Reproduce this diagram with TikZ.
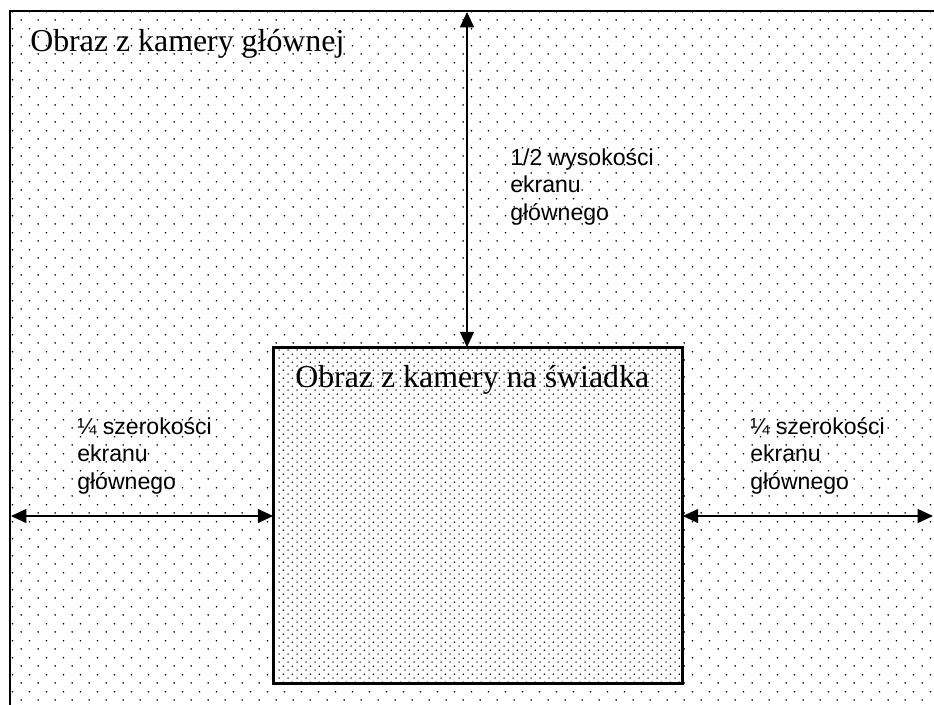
\documentclass[tikz,border=0pt]{standalone}
\usepackage{fontspec}
\setmainfont{Liberation Serif}
\newfontfamily\labelsans{Liberation Sans}
\usetikzlibrary{arrows.meta,patterns.meta}
\tikzdeclarepattern{name=outerdots, type=uncolored,
  bounding box={(0pt,0pt) and (13pt,12.5pt)}, tile size={(13pt,12.5pt)},
  code={\fill (3.25pt,3.125pt) circle (0.7pt); \fill (9.75pt,9.375pt) circle (0.7pt);}}
\tikzdeclarepattern{name=innerdots, type=uncolored,
  bounding box={(0pt,0pt) and (6.5pt,6.25pt)}, tile size={(6.5pt,6.25pt)},
  code={\fill (1.625pt,1.5625pt) circle (0.62pt); \fill (4.875pt,4.6875pt) circle (0.62pt);}}
\tikzset{
  outerbox/.style={draw=black, line width=1.2pt, pattern={outerdots}, pattern color=black},
  innerbox/.style={draw=black, line width=1.3pt, fill=white, rectangle, inner sep=0pt,
    minimum width=306pt, minimum height=251.25pt},
  innerpat/.style={pattern={innerdots}, pattern color=black},
  dimarrow/.style={line width=1.1pt, {Triangle[length=11.5pt,width=10.5pt]}-{Triangle[length=11.5pt,width=10.5pt]}},
  titletext/.style={anchor=base west, inner sep=0pt, font=\fontsize{23.9}{28}\selectfont},
  dimtext/.style={anchor=base west, inner sep=0pt, align=left, font=\labelsans\fontsize{17.3}{20.6}\selectfont}
}
\begin{document}
\begin{tikzpicture}[x=0.75pt,y=-0.75pt]
\useasboundingbox (0,0) rectangle (934,704);
\fill[white] (0,0) rectangle (934,704);
\begin{scope}
\clip (0,0) rectangle (934,704);
\draw[outerbox] (10,11) rectangle (945,715);
\end{scope}
\node[innerbox] (inner) at (478,515.5) {};
\fill[innerpat] (inner.south west) rectangle (inner.north east);
\draw[line width=1.3pt] (inner.south west) rectangle (inner.north east);
\coordinate (topEnd) at (467,12);
\coordinate (leftEnd) at (11,516);
\coordinate (rightEnd) at (933,516);
\draw[dimarrow] (topEnd) -- (topEnd |- inner.north);
\draw[dimarrow] (leftEnd) -- (leftEnd -| inner.west);
\draw[dimarrow] (inner.east |- rightEnd) -- (rightEnd);
\node[titletext] (maintitle) at (30,51) {Obraz z kamery głównej};
\node[titletext] (innertitle) at (295,387) {Obraz z kamery na świadka};
\node[dimtext] (halfh) at (510,220) {1/2 wysokości\\ekranu\\głównego};
\node[dimtext] (quarterl) at (77,489) {¼ szerokości\\ekranu\\głównego};
\node[dimtext] (quarterr) at (750,489) {¼ szerokości\\ekranu\\głównego};
\end{tikzpicture}
\end{document}
